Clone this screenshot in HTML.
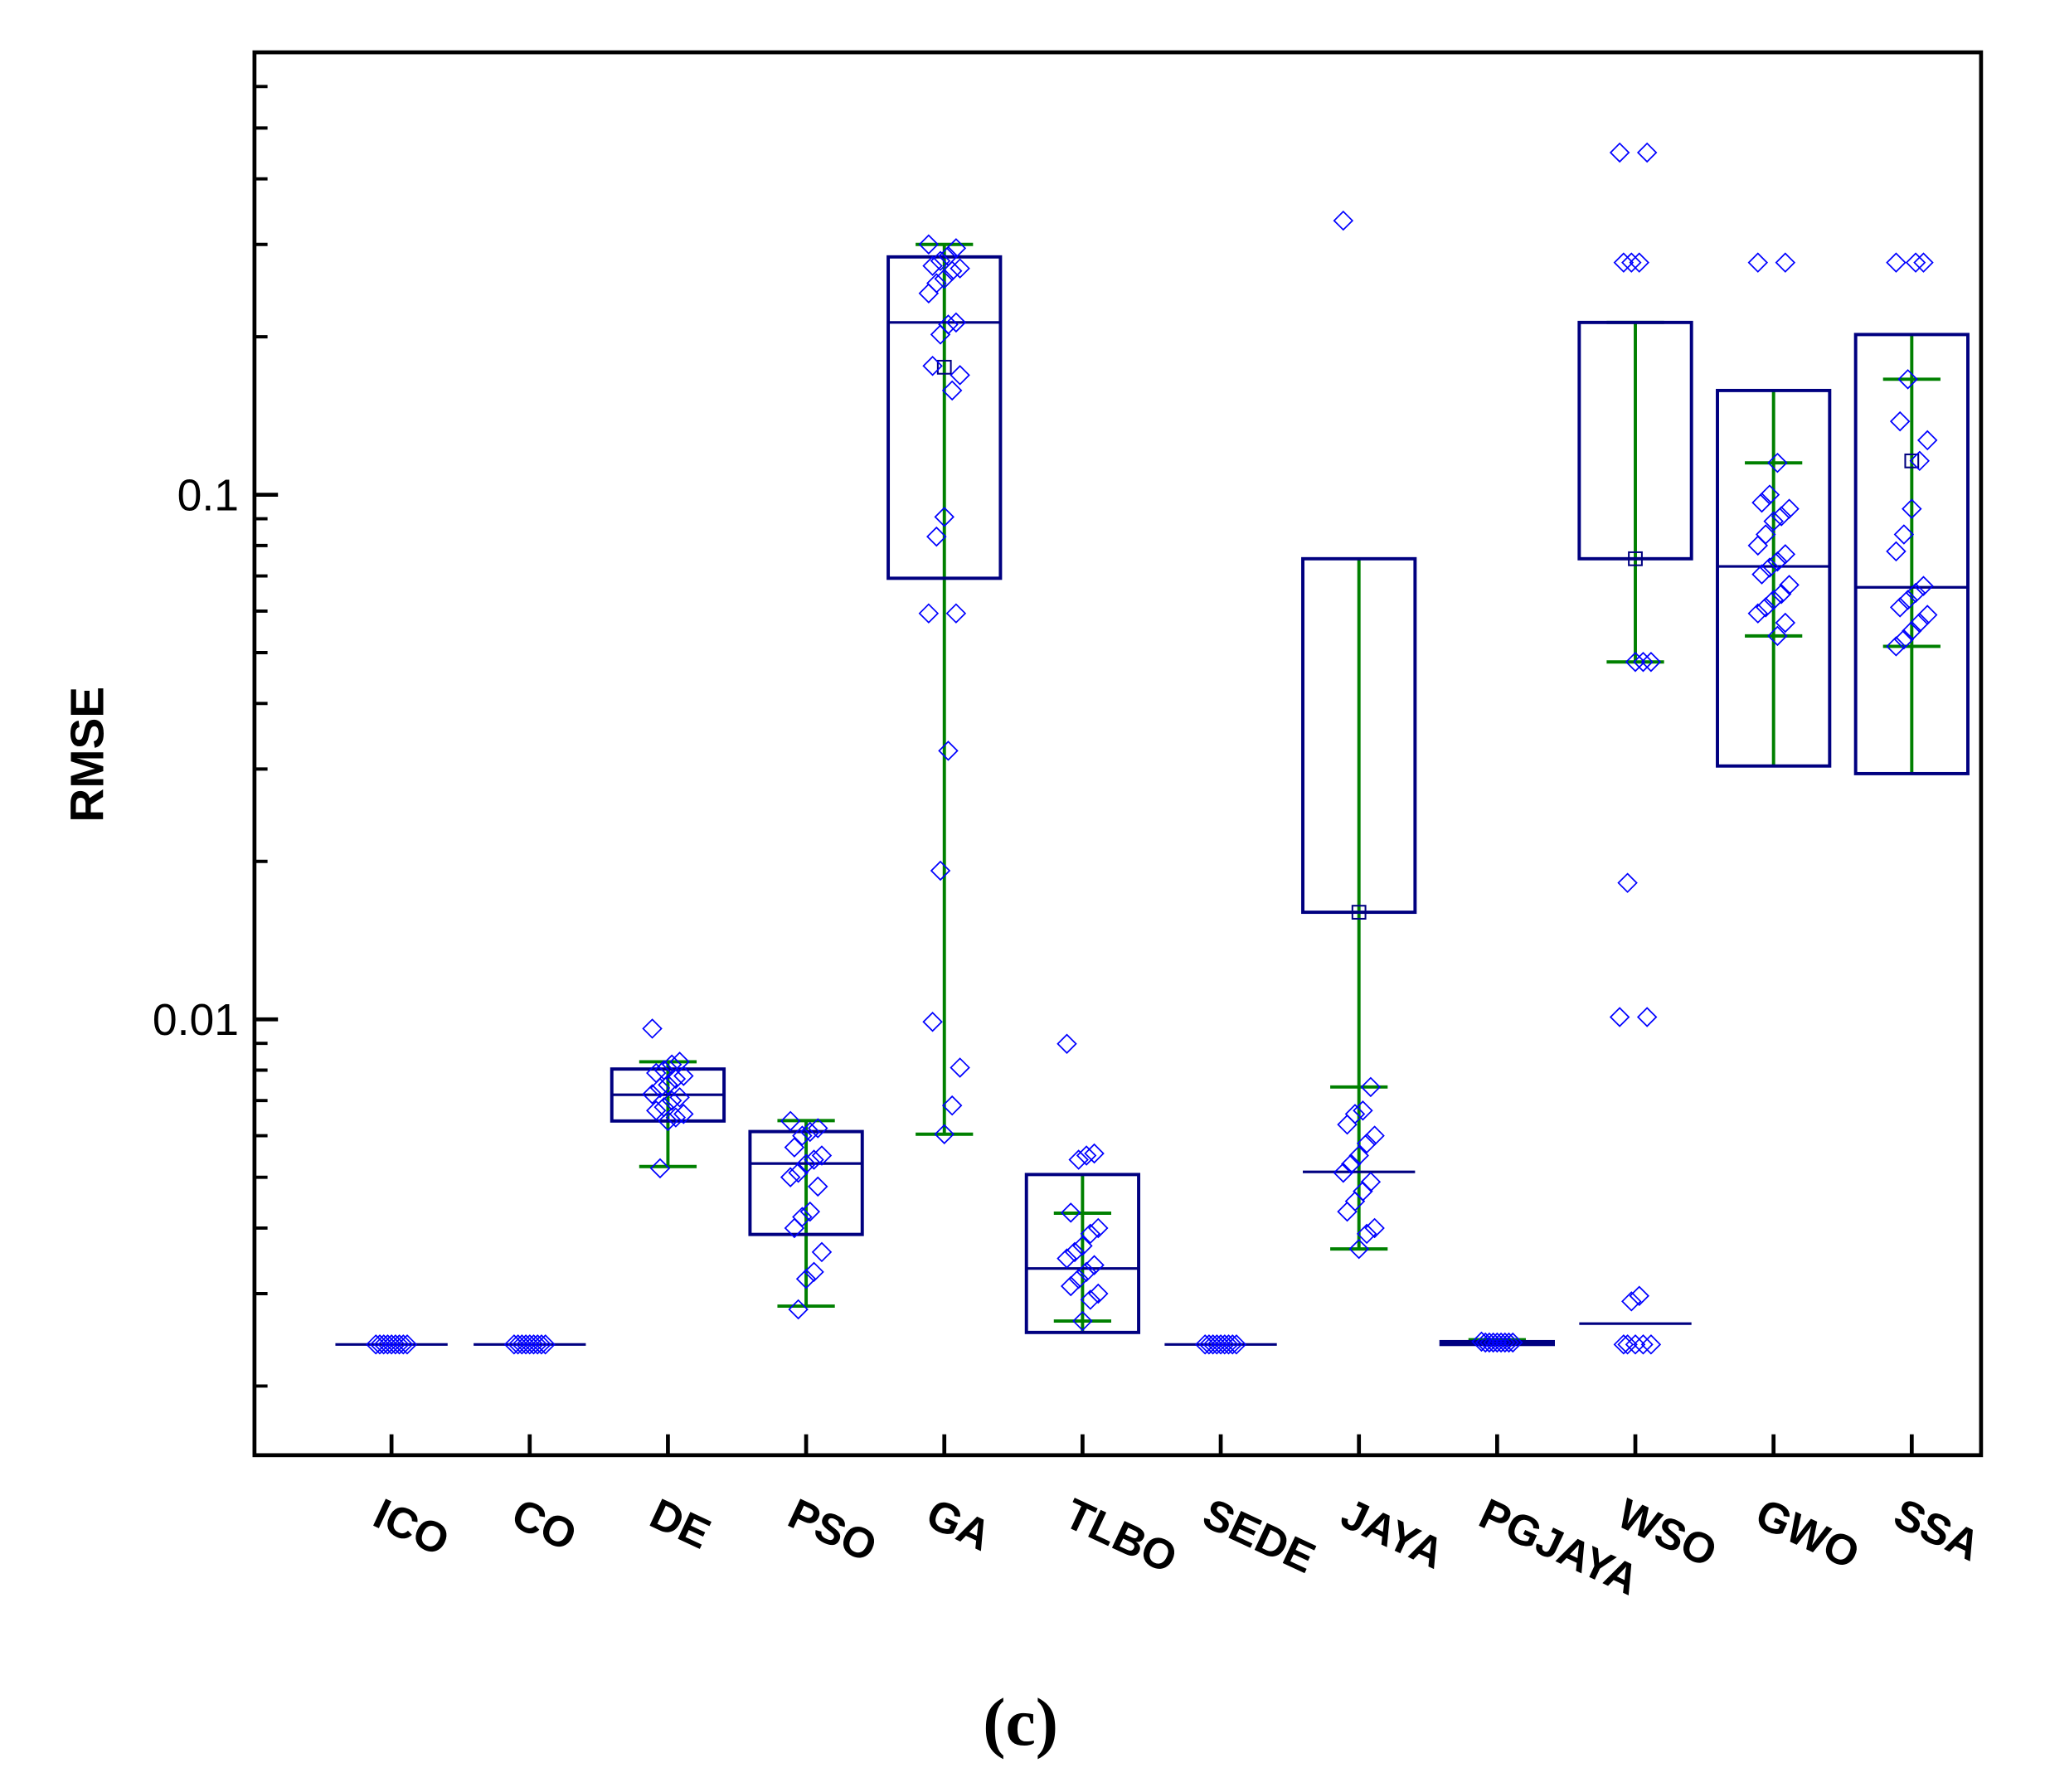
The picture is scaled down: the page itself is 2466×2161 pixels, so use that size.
<!DOCTYPE html>
<html><head><meta charset="utf-8"><style>
html,body{margin:0;padding:0;background:#fff}
svg{display:block}
</style></head><body>
<svg id="chart" width="2466" height="2161" viewBox="0 0 1567 1373" xmlns="http://www.w3.org/2000/svg">
<rect x="0" y="0" width="1567" height="1373" fill="#fff"/>
<g id="marks"></g>
<rect x="195" y="40" width="1323" height="1075" fill="none" stroke="#000" stroke-width="3"/>
<g id="axes"></g>
<text transform="translate(79,578) rotate(-90)" text-anchor="middle" font-family="Liberation Sans, sans-serif" font-weight="bold" font-size="36">RMSE</text>
<text x="782" y="1337" text-anchor="middle" font-family="Liberation Serif, serif" font-weight="bold" font-size="52">(c)</text>
</svg>
<script>
const categories=["ICO","CO","DE","PSO","GA","TLBO","SEDE","JAYA","PGJAYA","WSO","GWO","SSA"];
const q1=[0.0024,0.0024,0.0064,0.00389,0.0693,0.00253,0.0024,0.016,0.00240,0.0755,0.0304,0.0294];
const q3=[0.0024,0.0024,0.00804,0.00611,0.284,0.00506,0.0024,0.0755,0.00243,0.213,0.158,0.202];
const medians=[0.0024,0.0024,0.00718,0.00531,0.213,0.00335,0.0024,0.00512,0.00242,0.00263,0.0730,0.0666];
const whiskerLow=[0.0024,0.0024,0.00524,0.00284,0.00604,0.00266,0.0024,0.00365,0.00242,0.048,0.0538,0.0514];
const whiskerHigh=[0.0024,0.0024,0.0083,0.00641,0.30,0.00427,0.0024,0.00743,0.00245,0.213,0.115,0.166];
const means=[null,null,null,null,0.175,null,null,0.016,null,0.0755,null,0.116];
const points=[
[0.0024,0.0024,0.0024,0.0024,0.0024,0.0024,0.0024,0.0024,0.0024],
[0.0024,0.0024,0.0024,0.0024,0.0024,0.0024,0.0024,0.0024,0.0024],
[0.0096,0.0083,0.0082,0.0080,0.0079,0.0078,0.0077,0.0075,0.0074,0.0072,0.0071,0.0070,0.0068,0.0067,0.0066,0.0065,0.0064,0.0052],
[0.0064,0.0062,0.0061,0.0060,0.0057,0.0055,0.0054,0.0053,0.0051,0.0050,0.0048,0.0043,0.0042,0.0040,0.0036,0.0033,0.0032,0.0028],
[0.300,0.295,0.285,0.279,0.273,0.270,0.267,0.258,0.253,0.242,0.213,0.211,0.202,0.176,0.169,0.158,0.0907,0.0832,0.0594,0.0594,0.0325,0.0192,0.00989,0.00809,0.00685,0.00604],
[0.00898,0.00555,0.0055,0.0054,0.00428,0.0040,0.0039,0.0037,0.0036,0.0035,0.0034,0.0033,0.0032,0.0031,0.0030,0.00292,0.00266],
[0.0024,0.0024,0.0024,0.0024,0.0024,0.0024,0.0024,0.0024,0.0024],
[0.333,0.00743,0.0067,0.0066,0.0063,0.0060,0.0058,0.0055,0.0053,0.0051,0.0049,0.0047,0.0045,0.0043,0.0040,0.0039,0.00365],
[0.00243,0.00242,0.00242,0.00242,0.00242,0.00242,0.00242,0.00242,0.00242],
[0.449,0.449,0.277,0.277,0.277,0.048,0.048,0.048,0.0182,0.0101,0.0101,0.00297,0.0029,0.0024,0.0024,0.0024,0.0024,0.0024],
[0.277,0.277,0.115,0.1,0.0966,0.094,0.091,0.089,0.084,0.080,0.077,0.0746,0.0726,0.0705,0.0673,0.0647,0.063,0.061,0.0594,0.057,0.0538],
[0.277,0.277,0.277,0.166,0.138,0.127,0.116,0.094,0.084,0.078,0.067,0.065,0.063,0.061,0.059,0.057,0.055,0.053,0.0514]
];
const yMajorTicks=[0.01,0.1];
const yMajorLabels=["0.01","0.1"];
const yMinorTicks=[0.002,0.003,0.004,0.005,0.006,0.007,0.008,0.009,0.02,0.03,0.04,0.05,0.06,0.07,0.08,0.09,0.2,0.3,0.4,0.5,0.6];

const NS="http://www.w3.org/2000/svg";
function yS(v){return 379-402*(Math.log10(v)+1);}
function xS(i){return 300+i*105.9;}
function mk(tag,attrs,parent){const e=document.createElementNS(NS,tag);for(const k in attrs)e.setAttribute(k,attrs[k]);parent.appendChild(e);return e;}
const marks=document.getElementById('marks');
const axes=document.getElementById('axes');

categories.forEach((c,i)=>{
  const x=xS(i),hw=43;
  const g=mk('g',{},marks);
  
  
  const top=Math.min(yS(q3[i]),yS(whiskerHigh[i])),bot=Math.max(yS(q1[i]),yS(whiskerLow[i]));
  if(bot-top>1){
    const w=mk('line',{x1:x,x2:x,y1:top,y2:bot,stroke:'#008000','stroke-width':2.5},g);
    
    
    [whiskerLow[i],whiskerHigh[i]].forEach(v=>{
      const cap=mk('line',{x1:x-22,x2:x+22,y1:yS(v),y2:yS(v),stroke:'#008000','stroke-width':2.5},g);
      
      
    });
  }
  const bh=yS(q1[i])-yS(q3[i]);
  if(bh>0.5){
    const b=mk('rect',{x:x-hw,y:yS(q3[i]),width:2*hw,height:bh,fill:'none',stroke:'#000080','stroke-width':2.5},g);
    
    
  }
  const m=mk('line',{x1:x-hw,x2:x+hw,y1:yS(medians[i]),y2:yS(medians[i]),stroke:'#000080','stroke-width':2},g);
  
  
  if(means[i]!==null){
    const s=mk('rect',{x:x-5,y:yS(means[i])-5,width:10,height:10,fill:'none',stroke:'#000080','stroke-width':1.3},g);
    
    
  }
  points[i].forEach((v,j)=>{
    const dx=((j*7)%9-4)*3;
    const px=x+dx,py=yS(v),r=7;
    const p=mk('polygon',{points:`${px},${py-r} ${px+r},${py} ${px},${py+r} ${px-r},${py}`,fill:'none',stroke:'#0000ff','stroke-width':1.1},g);
    
    
  });
  const t=mk('line',{x1:x,x2:x,y1:1115,y2:1099,stroke:'#000','stroke-width':3},axes);
  
  
  const lb=mk('text',{transform:`translate(${x-16},1168) rotate(25)`,'font-family':'Liberation Sans, sans-serif','font-weight':'bold','font-size':33},axes);
  lb.textContent=c;
  
  
});
yMajorTicks.forEach((v,i)=>{
  const t=mk('line',{x1:195,x2:213,y1:yS(v),y2:yS(v),stroke:'#000','stroke-width':3},axes);
  
  
  const l=mk('text',{x:183,y:yS(v)+12,'text-anchor':'end','font-family':'Liberation Sans, sans-serif','font-size':34},axes);
  l.textContent=yMajorLabels[i];
  
  
});
yMinorTicks.forEach(v=>{
  const t=mk('line',{x1:195,x2:205,y1:yS(v),y2:yS(v),stroke:'#000','stroke-width':2.5},axes);
  
  
});
</script>
</body></html>
